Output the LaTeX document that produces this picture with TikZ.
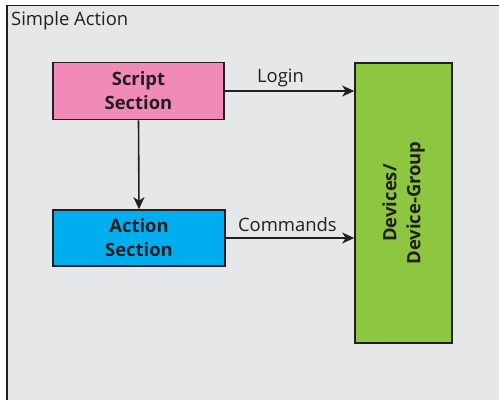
\documentclass[tikz,border=0pt]{standalone}
\usepackage{fontspec}
\setmainfont{Open Sans}
\usetikzlibrary{arrows.meta}
\definecolor{bg}{HTML}{E6E7E8}
\definecolor{edge}{HTML}{231F20}
\definecolor{pinkc}{HTML}{F28AB8}
\definecolor{bluec}{HTML}{00AEEF}
\definecolor{greenc}{HTML}{8DC63F}
\tikzset{
  boldtext/.style={font=\fontsize{18.5}{24}\selectfont\bfseries, text=edge, align=center},
  box/.style={draw=edge, line width=1.6bp, inner sep=0pt, boldtext},
  conn/.style={draw=edge, line width=1.6bp, -{Stealth[length=12bp,width=11bp,inset=3.5bp]}},
  lbl/.style={font=\fontsize{18.5}{22}\selectfont, text=edge, inner sep=0pt}
}
\begin{document}
\begin{tikzpicture}[x=1bp,y=-1bp]
\useasboundingbox (0,0) rectangle (499,400);
\fill[bg] (7,5.5) rectangle (499,400);
\draw[edge, line width=1.6bp] (7,400) -- (7,5.5) -- (499,5.5);
\node[lbl, anchor=west] (title) at (11,20.5) {Simple Action};
\node[box, fill=pinkc, minimum width=171bp, minimum height=57bp] (script) at (138.5,91) {Script\\Section};
\node[box, fill=bluec, minimum width=172bp, minimum height=56bp] (action) at (139,238) {Action\\Section};
\node[box, fill=greenc, minimum width=97bp, minimum height=280bp] (dev) at (403.5,203) {};
\node[boldtext, rotate=90] (devtext) at (dev.center) {Devices/\\Device-Group};
\draw[conn] (script.south) -- (action.north);
\draw[conn] (script.east) -- (dev.west |- script.east) node[lbl, pos=0.43, above=3bp] (login) {Login};
\draw[conn] (action.east) -- (dev.west |- action.east) node[lbl, pos=0.48, above=6bp] (cmd) {Commands};
\end{tikzpicture}
\end{document}
